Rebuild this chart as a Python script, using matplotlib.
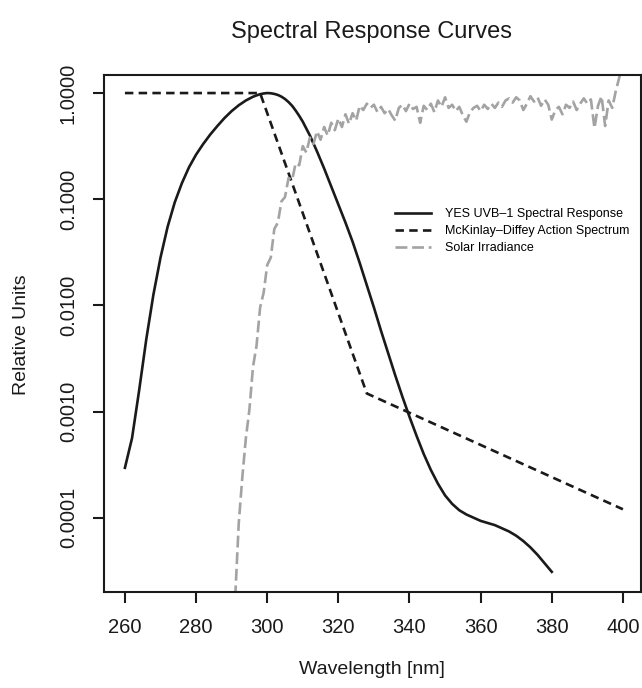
import numpy as np
import matplotlib
matplotlib.use('Agg')
import matplotlib.pyplot as plt

plt.rcParams['font.family'] = ['Liberation Sans', 'DejaVu Sans']

# YES UVB-1 spectral response (wavelength nm, log10 of relative units)
yes_nm = [260, 262, 264, 266, 268, 270, 272, 274, 276, 278, 280, 282, 284, 286, 288, 290, 292, 294,
          296, 297, 298, 299, 300, 301, 302, 303, 304, 305, 306, 307, 308, 309, 310, 312, 314, 316,
          318, 320, 322, 324, 326, 328, 330, 332, 334, 336, 338, 340, 342, 344, 346, 348, 350, 352,
          354, 356, 358, 360, 362, 364, 366, 368, 370, 372, 374, 376, 378, 380]
yes_log = [-3.53, -3.25, -2.80, -2.32, -1.90, -1.55, -1.26, -1.03, -0.85, -0.70, -0.58, -0.48, -0.39,
           -0.31, -0.235, -0.17, -0.115, -0.07, -0.035, -0.022, -0.011, -0.004, 0.0, -0.002, -0.008,
           -0.018, -0.034, -0.056, -0.085, -0.12, -0.165, -0.215, -0.27, -0.40, -0.55, -0.71, -0.88,
           -1.05, -1.22, -1.40, -1.60, -1.81, -2.02, -2.24, -2.45, -2.66, -2.86, -3.05, -3.23, -3.40,
           -3.55, -3.68, -3.79, -3.87, -3.93, -3.97, -4.00, -4.03, -4.05, -4.07, -4.10, -4.13, -4.17,
           -4.22, -4.28, -4.35, -4.43, -4.51]

# McKinlay-Diffey erythema action spectrum
mck_nm = [260, 298, 328, 400]
mck_val = [1.0, 1.0, 1.48e-3, 1.2e-4]

# solar irradiance, normalised (log10), 291..400 nm
sol_nm = list(range(291, 401))
sol_log = [-4.75, -4.05, -3.62, -3.25, -2.98, -2.58, -2.38, -2.02, -1.88, -1.62,
           -1.55, -1.28, -1.22, -1.02, -0.98, -0.80, -0.82, -0.66, -0.68, -0.50,
           -0.56, -0.42, -0.48, -0.36, -0.44, -0.32, -0.40, -0.28, -0.35, -0.24,
           -0.32, -0.20, -0.29, -0.19, -0.26, -0.12, -0.16, -0.10, -0.14, -0.11,
           -0.18, -0.13, -0.19, -0.15, -0.21, -0.26, -0.14, -0.11, -0.17, -0.10,
           -0.15, -0.13, -0.28, -0.12, -0.16, -0.10, -0.18, -0.07, -0.13, -0.04,
           -0.14, -0.11, -0.17, -0.13, -0.21, -0.27, -0.18, -0.14, -0.12, -0.17,
           -0.11, -0.15, -0.10, -0.14, -0.09, -0.13, -0.07, -0.05, -0.09, -0.04,
           -0.07, -0.16, -0.10, -0.03, -0.08, -0.04, -0.12, -0.06, -0.11, -0.25,
           -0.16, -0.13, -0.20, -0.11, -0.14, -0.08, -0.16, -0.10, -0.05, -0.10,
           -0.06, -0.33, -0.12, -0.03, -0.31, -0.07, -0.14, 0.02, 0.15, 0.30]

xticks = [260, 280, 300, 320, 340, 360, 380, 400]
yticks = [0.0001, 0.001, 0.01, 0.1, 1.0]
labels = ['YES UVB\u20131 Spectral Response', 'McKinlay\u2013Diffey Action Spectrum', 'Solar Irradiance']

fig = plt.figure(figsize=(6.42, 6.88), dpi=100)
ax = fig.add_axes([104.3 / 642, 1 - 592 / 688, (640.7 - 104.3) / 642, (592 - 75) / 688])

ax.plot(yes_nm, 10 ** np.array(yes_log), color='#1a1a1a', lw=1.9, label=labels[0])
ax.plot(mck_nm, mck_val, color='#1a1a1a', lw=1.9, linestyle=(0, (3.2, 2.0)), label=labels[1])
ax.plot(sol_nm, 10 ** np.array(sol_log), color='#a3a3a3', lw=1.9, linestyle=(0, (4.5, 1.8)), label=labels[2])

ax.set_yscale('log')
ax.set_xlim(254.2, 405.0)
ax.set_ylim(10 ** -4.70, 10 ** 0.17)
ax.set_xticks(xticks)
ax.set_xticklabels([str(t) for t in xticks])
ax.set_yticks(yticks)
ax.set_yticklabels(['%.4f' % t for t in yticks], rotation=90, va='center')
ax.minorticks_off()
ax.tick_params(axis='both', direction='out', length=8, width=1.5, labelsize=14.5, colors='#1a1a1a')
ax.tick_params(axis='x', pad=11)
ax.tick_params(axis='y', pad=11)
for s in ax.spines.values():
    s.set_linewidth(1.5)
    s.set_color('#1a1a1a')

leg = ax.legend(loc='upper left', bbox_to_anchor=((395 - 104.3) / 536.4, 1 - (208 - 75) / 517),
                frameon=False, fontsize=9, handlelength=2.9, handletextpad=1.1,
                labelspacing=0.4, borderpad=0, borderaxespad=0)

fig.text(372 / 642, 1 - 32 / 688, 'Spectral Response Curves', ha='center', va='center', fontsize=17, color='#1a1a1a')
fig.text(372 / 642, 1 - 670 / 688, 'Wavelength [nm]', ha='center', va='center', fontsize=14, color='#1a1a1a')
fig.text(22 / 642, 1 - 335 / 688, 'Relative Units', ha='center', va='center', rotation=90, fontsize=14, color='#1a1a1a')

fig.savefig('out.png', dpi=100)
